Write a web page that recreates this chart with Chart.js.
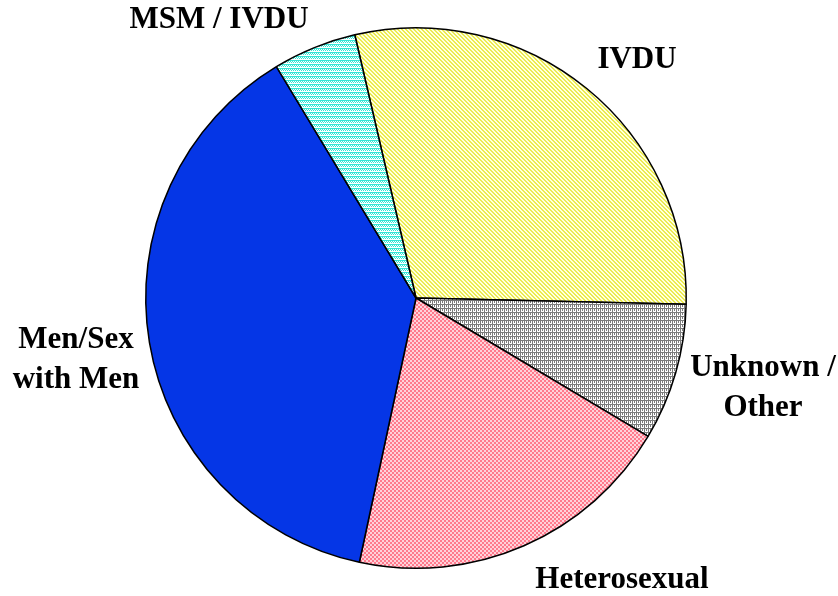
<!DOCTYPE html>
<html>
<head>
<meta charset="utf-8">
<script src="https://cdn.jsdelivr.net/npm/chart.js@4/dist/chart.umd.min.js"></script>
<style>
  html, body { margin: 0; padding: 0; background: #fff; }
  #wrap { width: 838px; height: 596px; }
</style>
</head>
<body>
<div id="wrap"><canvas id="pie-risk"></canvas></div>
<script>
const categories = ['IVDU', 'Unknown / Other', 'Heterosexual', 'Men/Sex with Men', 'MSM / IVDU'];
const shares = [29, 8.2, 19.8, 38, 5];

// little tile patterns, like the old office fills
function makeTile(bg, fg, cells) {
  const c = document.createElement('canvas');
  c.width = 4;
  c.height = 4;
  const ctx = c.getContext('2d');
  ctx.fillStyle = bg;
  ctx.fillRect(0, 0, 4, 4);
  ctx.fillStyle = fg;
  cells.forEach(p => ctx.fillRect(p[0], p[1], 1, 1));
  return ctx.createPattern(c, 'repeat');
}

const diag = [[0, 0], [1, 1], [2, 2], [3, 3], [1, 0], [2, 1], [3, 2], [0, 3]];
const grid = [[0, 0], [1, 0], [2, 0], [3, 0], [0, 1], [0, 2], [0, 3], [2, 2], [2, 1]];
const checker = [[0, 0], [1, 0], [0, 1], [1, 1], [2, 2], [3, 2], [2, 3], [3, 3]];
const stripes = [[0, 0], [1, 0], [2, 0], [3, 0], [0, 1], [2, 1], [1, 2], [3, 2]];

const fills = [
  makeTile('#ffffe0', '#ecec50', diag),     // IVDU
  makeTile('#ffffff', '#7c7c7c', grid),     // Unknown / Other
  makeTile('#ffd2da', '#ff7a8c', checker),  // Heterosexual
  '#0536e6',                                // Men/Sex with Men
  makeTile('#ffffff', '#33e6d6', stripes),  // MSM / IVDU
];

// label text placement, relative to pie centre
const labelSpots = [
  { lines: ['IVDU'], dx: 221, dy: -238 },
  { lines: ['Unknown /', 'Other'], dx: 347, dy: 90 },
  { lines: ['Heterosexual'], dx: 206, dy: 282 },
  { lines: ['Men/Sex', 'with Men'], dx: -340, dy: 62 },
  { lines: ['MSM / IVDU'], dx: -197, dy: -278 },
];

const sliceLabels = {
  id: 'sliceLabels',
  afterDraw(chart) {
    const arc = chart.getDatasetMeta(0).data[0];
    if (!arc) return;
    const ctx = chart.ctx;
    ctx.save();
    ctx.fillStyle = '#000';
    ctx.font = 'bold 31px "Liberation Serif", "Times New Roman", serif';
    ctx.textAlign = 'center';
    ctx.textBaseline = 'middle';
    labelSpots.forEach(s => {
      const top = arc.y + s.dy - (s.lines.length - 1) * 20;
      s.lines.forEach((t, i) => ctx.fillText(t, arc.x + s.dx, top + i * 40));
    });
    ctx.restore();
  },
};

new Chart(document.getElementById('pie-risk'), {
  type: 'pie',
  data: {
    labels: categories,
    datasets: [
      {
        data: shares,
        backgroundColor: fills,
        borderColor: '#000',
        borderWidth: 1.5,
      },
    ],
  },
  options: {
    responsive: true,
    maintainAspectRatio: false,
    animation: false,
    rotation: -13.1,
    layout: { padding: { top: 27, bottom: 27, left: 0, right: 6 } },
    plugins: {
      legend: { display: false },
      tooltip: { enabled: false },
    },
  },
  plugins: [sliceLabels],
});
</script>
</body>
</html>
